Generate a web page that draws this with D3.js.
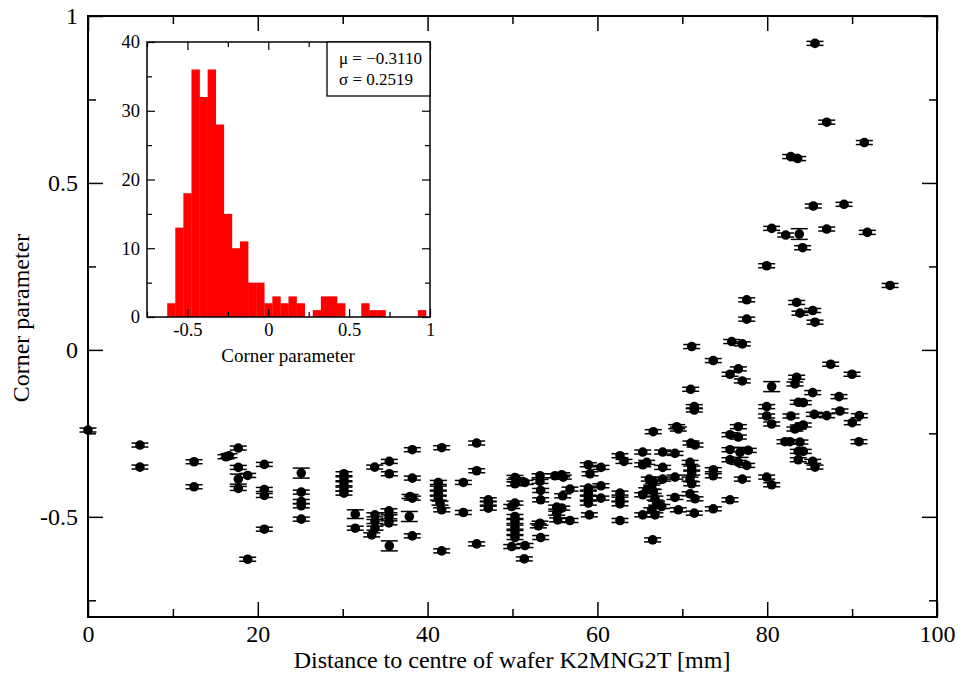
<!DOCTYPE html>
<html>
<head>
<meta charset="utf-8">
<script src="https://cdn.jsdelivr.net/npm/d3@7"></script>
<style>
  body { margin: 0; background: #fff; }
  text { font-family: "Liberation Serif", "Times New Roman", serif; fill: #000; }
</style>
</head>
<body>
<svg id="chart" width="963" height="679"></svg>
<script>
// distance to wafer centre [mm] and corner parameter for each structure
const distance = [
  0.00, 6.12, 6.12, 12.49, 12.49, 16.25, 16.61, 17.70, 17.70, 17.70,
  17.70, 18.81, 18.81, 20.77, 20.77, 20.77, 20.77, 25.12, 25.12, 25.12,
  25.12, 25.12, 30.15, 30.15, 30.15, 30.15, 30.15, 31.48, 31.48, 33.77,
  33.80, 33.80, 33.80, 33.42, 35.49, 35.49, 35.45, 35.45, 35.45, 35.49,
  38.20, 38.20, 37.93, 38.20, 37.85, 38.20, 41.66, 41.26, 41.26, 41.26,
  41.26, 41.46, 41.66, 41.66, 44.21, 44.21, 45.78, 45.78, 45.78, 47.15,
  47.15, 47.15, 50.29, 50.50, 50.29, 51.47, 49.91, 50.29, 50.29, 50.29,
  50.29, 50.29, 50.29, 49.91, 51.47, 51.39, 53.24, 53.24, 53.32, 53.32,
  53.24, 53.04, 53.32, 55.00, 55.80, 55.98, 55.91, 55.21, 55.80, 55.21,
  55.32, 56.77, 56.77, 58.93, 59.13, 58.93, 58.93, 58.93, 58.93, 59.05,
  60.42, 60.42, 60.42, 62.66, 63.13, 62.66, 62.66, 62.66, 62.66, 65.34,
  65.34, 65.81, 66.11, 66.58, 66.40, 65.34, 65.81, 66.58, 67.69, 67.69,
  67.69, 66.78, 66.98, 67.57, 65.34, 66.78, 66.51, 94.47, 77.59, 77.59,
  83.47, 83.86, 85.36, 85.63, 71.11, 75.82, 77.07, 73.65, 76.60, 75.62,
  77.07, 87.48, 89.99, 70.99, 71.41, 71.41, 80.53, 83.47, 83.27, 85.36,
  88.46, 79.94, 79.94, 80.53, 82.80, 83.66, 84.25, 85.55, 87.01, 88.57,
  90.85, 90.02, 83.27, 83.66, 84.25, 82.10, 82.69, 83.86, 83.66, 84.25,
  83.66, 85.36, 85.63, 90.81, 69.34, 69.53, 71.02, 71.50, 76.60, 75.62,
  76.60, 75.62, 76.80, 77.77, 75.62, 76.60, 77.59, 69.14, 70.91, 71.11,
  71.11, 70.91, 71.11, 73.65, 73.65, 69.14, 77.07, 79.94, 80.53, 69.14,
  70.91, 71.50, 75.62, 69.53, 71.41, 73.65, 66.40, 85.63, 87.01, 91.44,
  82.77, 83.59, 85.43, 89.05, 80.53, 82.18, 83.78, 87.01, 91.79, 84.17,
  79.94, 66.58
];
const corner = [
  -0.240, -0.285, -0.351, -0.335, -0.410, -0.320, -0.317, -0.294, -0.352, -0.387,
  -0.415, -0.376, -0.627, -0.343, -0.418, -0.436, -0.537, -0.369, -0.426, -0.454,
  -0.467, -0.507, -0.371, -0.386, -0.401, -0.417, -0.429, -0.492, -0.534, -0.351,
  -0.494, -0.514, -0.534, -0.554, -0.334, -0.371, -0.482, -0.500, -0.518, -0.587,
  -0.299, -0.384, -0.439, -0.444, -0.499, -0.557, -0.293, -0.397, -0.414, -0.429,
  -0.444, -0.459, -0.479, -0.602, -0.397, -0.487, -0.279, -0.362, -0.581, -0.449,
  -0.459, -0.474, -0.382, -0.389, -0.401, -0.397, -0.469, -0.459, -0.499, -0.514,
  -0.531, -0.547, -0.562, -0.589, -0.586, -0.626, -0.377, -0.394, -0.421, -0.449,
  -0.519, -0.527, -0.562, -0.377, -0.374, -0.381, -0.437, -0.471, -0.474, -0.489,
  -0.509, -0.417, -0.511, -0.344, -0.371, -0.414, -0.429, -0.444, -0.459, -0.494,
  -0.352, -0.407, -0.444, -0.317, -0.334, -0.429, -0.447, -0.461, -0.511, -0.306,
  -0.344, -0.337, -0.387, -0.394, -0.411, -0.434, -0.419, -0.245, -0.306, -0.352,
  -0.387, -0.444, -0.459, -0.469, -0.494, -0.494, -0.569, 0.193, 0.150, 0.092,
  0.142, 0.110, 0.118, 0.083, 0.010, 0.025, 0.018, -0.032, -0.057, -0.073,
  -0.093, -0.043, -0.073, -0.118, -0.170, -0.180, -0.110, -0.082, -0.102, -0.128,
  -0.140, -0.170, -0.198, -0.222, -0.198, -0.157, -0.158, -0.193, -0.197, -0.183,
  -0.197, -0.218, -0.237, -0.231, -0.225, -0.275, -0.275, -0.276, -0.304, -0.304,
  -0.329, -0.334, -0.351, -0.275, -0.230, -0.237, -0.279, -0.285, -0.230, -0.254,
  -0.261, -0.299, -0.307, -0.301, -0.329, -0.337, -0.346, -0.310, -0.337, -0.354,
  -0.369, -0.387, -0.401, -0.359, -0.377, -0.381, -0.387, -0.381, -0.404, -0.442,
  -0.431, -0.446, -0.449, -0.479, -0.489, -0.476, -0.479, 0.918, 0.682, 0.621,
  0.579, 0.573, 0.431, 0.436, 0.364, 0.344, 0.347, 0.362, 0.352, 0.306,
  0.252, -0.424
];
const cornerErr = [
  0.006, 0.006, 0.006, 0.006, 0.006, 0.006, 0.006, 0.006, 0.006, 0.015,
  0.006, 0.006, 0.006, 0.006, 0.006, 0.006, 0.006, 0.015, 0.006, 0.006,
  0.006, 0.006, 0.006, 0.006, 0.006, 0.006, 0.006, 0.013, 0.006, 0.006,
  0.006, 0.006, 0.006, 0.006, 0.006, 0.006, 0.006, 0.006, 0.006, 0.015,
  0.006, 0.006, 0.006, 0.006, 0.015, 0.006, 0.006, 0.006, 0.006, 0.006,
  0.006, 0.006, 0.006, 0.006, 0.006, 0.006, 0.006, 0.006, 0.006, 0.006,
  0.006, 0.006, 0.006, 0.006, 0.006, 0.006, 0.006, 0.006, 0.006, 0.006,
  0.006, 0.006, 0.006, 0.006, 0.006, 0.006, 0.006, 0.006, 0.006, 0.006,
  0.006, 0.006, 0.006, 0.006, 0.006, 0.006, 0.006, 0.006, 0.006, 0.006,
  0.006, 0.006, 0.006, 0.006, 0.006, 0.006, 0.006, 0.006, 0.006, 0.006,
  0.006, 0.006, 0.006, 0.006, 0.006, 0.006, 0.006, 0.006, 0.006, 0.006,
  0.006, 0.006, 0.006, 0.006, 0.006, 0.006, 0.006, 0.006, 0.006, 0.006,
  0.006, 0.006, 0.006, 0.006, 0.006, 0.006, 0.006, 0.006, 0.006, 0.006,
  0.006, 0.006, 0.006, 0.006, 0.006, 0.006, 0.006, 0.006, 0.006, 0.006,
  0.006, 0.006, 0.006, 0.006, 0.006, 0.006, 0.015, 0.006, 0.006, 0.006,
  0.006, 0.006, 0.006, 0.006, 0.006, 0.006, 0.006, 0.006, 0.006, 0.006,
  0.006, 0.006, 0.006, 0.006, 0.006, 0.006, 0.006, 0.006, 0.006, 0.006,
  0.006, 0.006, 0.006, 0.006, 0.006, 0.006, 0.006, 0.006, 0.006, 0.006,
  0.006, 0.006, 0.015, 0.006, 0.006, 0.006, 0.006, 0.006, 0.006, 0.006,
  0.006, 0.006, 0.006, 0.006, 0.006, 0.006, 0.006, 0.006, 0.006, 0.006,
  0.006, 0.006, 0.006, 0.006, 0.006, 0.006, 0.006, 0.006, 0.006, 0.006,
  0.006, 0.006, 0.006, 0.006, 0.006, 0.006, 0.016, 0.006, 0.006, 0.006,
  0.006, 0.006
];

// inset histogram of the corner parameter
const histEdges = [
  -0.625, -0.575, -0.525, -0.475, -0.425, -0.375, -0.325, -0.275, -0.225, -0.175,
  -0.125, -0.075, -0.025, 0.025, 0.075, 0.125, 0.175, 0.225, 0.275, 0.325,
  0.375, 0.425, 0.475, 0.525, 0.575, 0.625, 0.675, 0.725, 0.775, 0.825,
  0.875, 0.925, 0.975
];
const histCounts = [
  2, 13, 18, 36, 32, 36, 28, 15, 10, 11,
  5, 5, 2, 3, 2, 3, 2, 0, 1, 3,
  3, 2, 0, 0, 2, 1, 1, 0, 0, 0,
  0, 1
];
const statLines = ["\u03bc = \u22120.3110", "\u03c3 = 0.2519"];

// tick values
const xMajor = [0, 20, 40, 60, 80, 100];
const xMinor = [10, 30, 50, 70, 90];
const yMajor = [-0.5, 0, 0.5, 1];
const yMinor = [-0.75, -0.25, 0.25, 0.75];
const hxMajor = [-0.5, 0, 0.5, 1];
const hxMinor = [-0.75, -0.25, 0.25, 0.75];
const hyMajor = [0, 10, 20, 30, 40];
const hyMinor = [5, 15, 25, 35];

const svg = d3.select("#chart");

// main plot
const mLeft = 88, mRight = 937, mTop = 16, mBottom = 617;
const x = d3.scaleLinear().domain([0, 100]).range([mLeft, mRight]);
const y = d3.scaleLinear().domain([-0.8, 1]).range([mBottom, mTop]);

function drawAxes(g, xs, ys, box, opt) {
    let w = box.r - box.l, h = box.b - box.t;
    let fmt = d => String(d);
    let ax = g.append("g");
    // bottom
    ax.append("g").attr("transform", `translate(0,${box.b})`)
        .call(d3.axisBottom(xs).tickValues(opt.xMajor).tickSizeInner(-opt.major).tickSizeOuter(0)
            .tickPadding(opt.xPad).tickFormat(fmt));
    ax.append("g").attr("transform", `translate(0,${box.b})`)
        .call(d3.axisBottom(xs).tickValues(opt.xMinor).tickSizeInner(-opt.minor).tickSizeOuter(0).tickFormat(""));
    // top
    ax.append("g").attr("transform", `translate(0,${box.t})`)
        .call(d3.axisTop(xs).tickValues(opt.xMajor).tickSizeInner(-opt.major).tickSizeOuter(0).tickFormat(""));
    ax.append("g").attr("transform", `translate(0,${box.t})`)
        .call(d3.axisTop(xs).tickValues(opt.xMinor).tickSizeInner(-opt.minor).tickSizeOuter(0).tickFormat(""));
    // left
    ax.append("g").attr("transform", `translate(${box.l},0)`)
        .call(d3.axisLeft(ys).tickValues(opt.yMajor).tickSizeInner(-opt.major).tickSizeOuter(0)
            .tickPadding(opt.yPad).tickFormat(fmt));
    ax.append("g").attr("transform", `translate(${box.l},0)`)
        .call(d3.axisLeft(ys).tickValues(opt.yMinor).tickSizeInner(-opt.minor).tickSizeOuter(0).tickFormat(""));
    // right
    ax.append("g").attr("transform", `translate(${box.r},0)`)
        .call(d3.axisRight(ys).tickValues(opt.yMajor).tickSizeInner(-opt.major).tickSizeOuter(0).tickFormat(""));
    ax.append("g").attr("transform", `translate(${box.r},0)`)
        .call(d3.axisRight(ys).tickValues(opt.yMinor).tickSizeInner(-opt.minor).tickSizeOuter(0).tickFormat(""));

    ax.selectAll(".domain").remove();
    ax.selectAll(".tick line").attr("stroke", "#000").attr("stroke-width", opt.tickW);
    ax.selectAll(".tick text")
        .attr("font-family", "Liberation Serif, serif")
        .attr("font-size", opt.font).attr("fill", "#000");

    g.append("rect")
        .attr("x", box.l).attr("y", box.t).attr("width", w).attr("height", h)
        .attr("fill", "none").attr("stroke", "#000").attr("stroke-width", opt.frameW);
}

let main = svg.append("g");

// error bars and points
let pts = main.append("g").selectAll("g")
    .data(distance.map((d, i) => ({ x: d, y: corner[i], e: cornerErr[i] })))
    .enter().append("g");

pts.append("line")
    .attr("x1", d => x(d.x)).attr("x2", d => x(d.x))
    .attr("y1", d => y(d.y + d.e)).attr("y2", d => y(d.y - d.e))
    .attr("stroke", "#000").attr("stroke-width", 1.5);
pts.append("line")
    .attr("x1", d => x(d.x) - 8.5).attr("x2", d => x(d.x) + 8.5)
    .attr("y1", d => y(d.y + d.e)).attr("y2", d => y(d.y + d.e))
    .attr("stroke", "#000").attr("stroke-width", 1.5);
pts.append("line")
    .attr("x1", d => x(d.x) - 8.5).attr("x2", d => x(d.x) + 8.5)
    .attr("y1", d => y(d.y - d.e)).attr("y2", d => y(d.y - d.e))
    .attr("stroke", "#000").attr("stroke-width", 1.5);
pts.append("circle")
    .attr("cx", d => x(d.x)).attr("cy", d => y(d.y))
    .attr("r", 4.8).attr("fill", "#000");

drawAxes(main, x, y, { l: mLeft, r: mRight, t: mTop, b: mBottom }, {
    xMajor: xMajor, xMinor: xMinor, yMajor: yMajor, yMinor: yMinor,
    major: 15, minor: 8, xPad: 8, yPad: 10, font: 24, tickW: 1.5, frameW: 2
});

main.append("text")
    .attr("x", 512).attr("y", 668)
    .attr("text-anchor", "middle").attr("font-size", 24)
    .text("Distance to centre of wafer K2MNG2T [mm]");
main.append("text")
    .attr("transform", "translate(29,318) rotate(-90)")
    .attr("text-anchor", "middle").attr("font-size", 24)
    .text("Corner parameter");

// inset histogram
const hl = 147, hr = 430, ht = 42, hb = 317;
const hx = d3.scaleLinear().domain([-0.75, 1]).range([hl, hr]);
const hy = d3.scaleLinear().domain([0, 40]).range([hb, ht]);

let inset = svg.append("g");
inset.append("rect").attr("x", hl).attr("y", ht).attr("width", hr - hl).attr("height", hb - ht).attr("fill", "#fff");

inset.append("g").selectAll("rect")
    .data(histCounts.map((c, i) => ({ lo: histEdges[i], hi: histEdges[i + 1], c: c })).filter(d => d.c > 0))
    .enter().append("rect")
    .attr("x", d => hx(d.lo))
    .attr("width", d => hx(d.hi) - hx(d.lo) + 0.3)
    .attr("y", d => hy(d.c))
    .attr("height", d => hy(0) - hy(d.c))
    .attr("fill", "#ff0000");

drawAxes(inset, hx, hy, { l: hl, r: hr, t: ht, b: hb }, {
    xMajor: hxMajor, xMinor: hxMinor, yMajor: hyMajor, yMinor: hyMinor,
    major: 8, minor: 5, xPad: 6, yPad: 7, font: 18.5, tickW: 1.2, frameW: 1.5
});

inset.append("text")
    .attr("x", 288).attr("y", 362)
    .attr("text-anchor", "middle").attr("font-size", 19)
    .text("Corner parameter");

// statistics box
let sb = inset.append("g");
sb.append("rect").attr("x", 327).attr("y", ht).attr("width", hr - 327).attr("height", 54)
    .attr("fill", "#fff").attr("stroke", "#000").attr("stroke-width", 1.3);
sb.selectAll("text").data(statLines).enter().append("text")
    .attr("x", 339).attr("y", (d, i) => 64 + i * 21)
    .attr("font-size", 17)
    .text(d => d);
</script>
</body>
</html>
